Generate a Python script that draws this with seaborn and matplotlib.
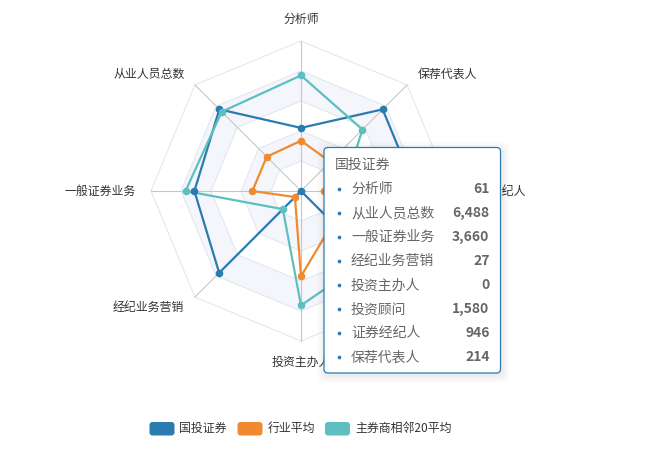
import numpy as np
import pandas as pd
import matplotlib
matplotlib.use("Agg")
import matplotlib.pyplot as plt
import seaborn as sns
from matplotlib.patches import FancyBboxPatch, Polygon

# ---------------- data ----------------
indicators = ['分析师', '从业人员总数', '一般证券业务', '经纪业务营销',
              '投资主办人', '投资顾问', '证券经纪人', '保荐代表人']
max_values = [145, 8430, 5150, 35, 16, 2050, 1230, 278]
guotou = [61, 6488, 3660, 27, 0, 1580, 946, 214]
industry_avg = [48.6, 2723, 1669, 2.0, 9.1, 615, 188, 76.7]
peer20_avg = [111.7, 6300, 3965, 6.0, 12.2, 1312, 344, 161]
series_names = ['国投证券', '行业平均', '主券商相邻20平均']
series_values = [guotou, industry_avg, peer20_avg]
colors = ['#2b7bb0', '#f08a30', '#5dbfc0']

# ---------------- style ----------------
sns.set_theme(style='white')
plt.rcParams['font.family'] = ['Noto Sans CJK SC', 'DejaVu Sans']

W, H = 652, 453
fig = plt.figure(figsize=(W / 100, H / 100), dpi=100)
ax = fig.add_axes([0, 0, 1, 1])
ax.set_xlim(0, W)
ax.set_ylim(H, 0)
ax.axis('off')

CX, CY, R = 301, 191, 150
n = len(indicators)
angles = np.deg2rad(90 + 45 * np.arange(n))


def to_xy(frac):
    frac = np.asarray(frac, dtype=float)
    return CX + frac * R * np.cos(angles), CY - frac * R * np.sin(angles)


# split areas (alternating bands) and split lines
band_colors = ['#ffffff', '#f4f6fb']
for k in range(5, 0, -1):
    xs, ys = to_xy(np.full(n, k / 5))
    ax.add_patch(Polygon(np.column_stack([xs, ys]), closed=True,
                         facecolor=band_colors[(k - 1) % 2], edgecolor='none', zorder=1))
for k in range(1, 6):
    xs, ys = to_xy(np.full(n, k / 5))
    ax.add_patch(Polygon(np.column_stack([xs, ys]), closed=True,
                         facecolor='none', edgecolor='#e2e7f1', lw=0.8, zorder=2))
# axis lines
xo, yo = to_xy(np.ones(n))
for x1, y1 in zip(xo, yo):
    ax.plot([CX, x1], [CY, y1], color='#c6c6c6', lw=0.8, zorder=2)

# axis names
gap = 15
for name, a in zip(indicators, angles):
    x = CX + (R + gap) * np.cos(a)
    y = CY - (R + gap) * np.sin(a)
    c, s = np.cos(a), np.sin(a)
    ha = 'left' if c > 0.01 else ('right' if c < -0.01 else 'center')
    va = 'center'
    if abs(c) <= 0.01:
        va = 'bottom' if s > 0 else 'top'
    ax.text(x, y, name, ha=ha, va=va, fontsize=8.6, color='#333333', zorder=3)

# series
for name, vals, col in zip(series_names, series_values, colors):
    frac = np.array(vals, dtype=float) / np.array(max_values, dtype=float)
    xs, ys = to_xy(frac)
    ax.plot(np.append(xs, xs[0]), np.append(ys, ys[0]), color=col, lw=1.6,
            zorder=4, solid_joinstyle='round')
    df = pd.DataFrame({'x': xs, 'y': ys})
    sns.scatterplot(data=df, x='x', y='y', ax=ax, color=col, s=30,
                    linewidth=0, zorder=5, legend=False)

# ---------------- tooltip ----------------
tx, ty, tw, th = 324, 147.5, 176.5, 225.5
for i, a in enumerate([0.025, 0.02, 0.015, 0.01]):
    pad = 2 + i * 2
    ax.add_patch(FancyBboxPatch((tx - pad + 1, ty - pad + 2), tw + 2 * pad, th + 2 * pad,
                                boxstyle='round,pad=0,rounding_size=6',
                                fc='black', ec='none', alpha=a, zorder=9))
ax.add_patch(FancyBboxPatch((tx, ty), tw, th, boxstyle='round,pad=0,rounding_size=4',
                            fc='white', ec=colors[0], lw=0.9, zorder=10))
ax.text(335, 165, series_names[0], ha='left', va='center', fontsize=10,
        color='#666666', zorder=11)
for i, (name, v) in enumerate(zip(indicators, guotou)):
    y = 189.3 + 24 * i
    ax.scatter([339], [y], s=7, color=colors[0], zorder=11, linewidths=0)
    ax.text(351, y, name, ha='left', va='center', fontsize=10, color='#666666', zorder=11)
    ax.text(489.5, y, f'{v:,}', ha='right', va='center', fontsize=10,
            fontweight='bold', color='#666666', zorder=11)

# ---------------- legend ----------------
leg_x = [149.5, 237.5, 325]
for name, col, lx in zip(series_names, colors, leg_x):
    ax.add_patch(FancyBboxPatch((lx, 422), 25, 13.5, boxstyle='round,pad=0,rounding_size=3',
                                fc=col, ec='none', zorder=3))
    ax.text(lx + 30, 428.7, name, ha='left', va='center', fontsize=8.6,
            color='#333333', zorder=3)

fig.savefig('out.png', dpi=100)
